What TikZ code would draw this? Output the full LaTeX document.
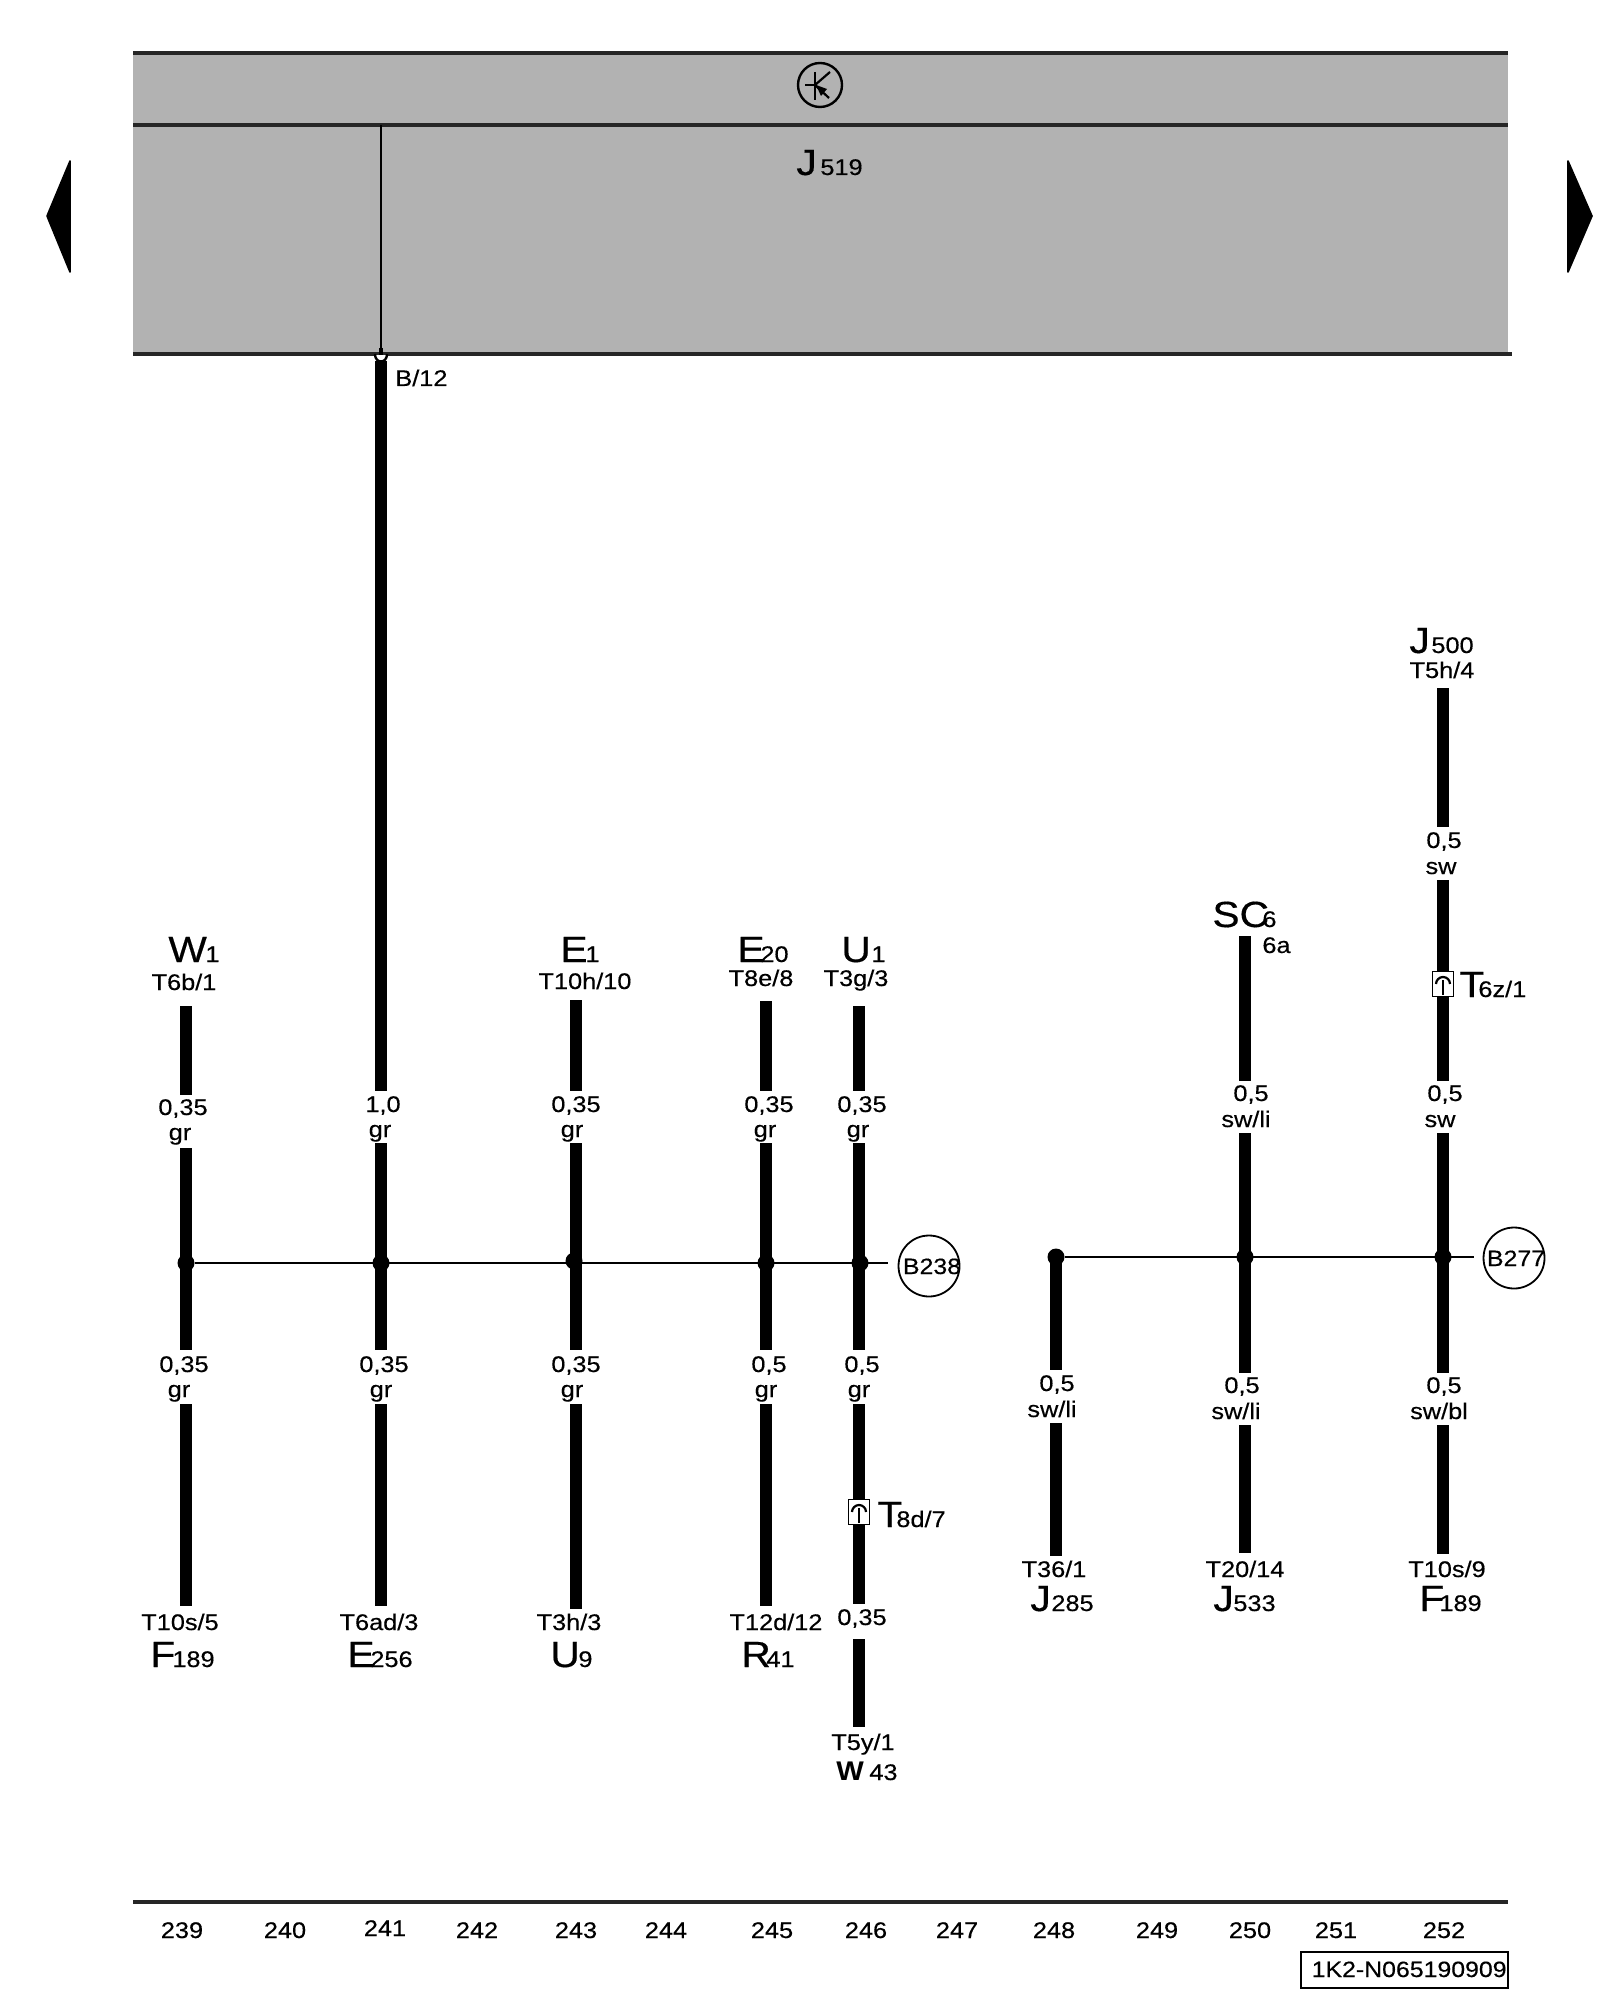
\documentclass[tikz,border=0pt]{standalone}
\usepackage{fontspec}
\setmainfont[FakeStretch=1.12,FakeBold=0.4]{Liberation Sans}
\newfontfamily\boldw[FakeStretch=1.08]{Liberation Sans}
\newcommand\smallf{\fontsize{11.3}{13}\selectfont}
\newcommand\bigf{\fontsize{18.2}{20}\selectfont}
\tikzset{
  wire/.style={line width=6.2pt,line cap=butt},
  thin wire/.style={line width=1.1pt},
  frame line/.style={line width=1.6pt,color=black!85},
  lab/.style={inner sep=0pt,anchor=base,font=\smallf},
  biglab/.style={inner sep=0pt,anchor=base west,font=\bigf},
  sublab/.style={inner sep=0pt,anchor=base west,font=\smallf},
  dot/.style={circle,fill=black,inner sep=0pt,minimum size=8.5pt},
  bubble/.style={circle,draw,line width=.9pt,inner sep=0pt,minimum size=30.5pt},
  plug/.style={draw,line width=.8pt,fill=white,inner sep=0pt,minimum width=10.5pt,minimum height=12.5pt},
}
\newcommand\wire[4]{\coordinate (#1a) at (#2,#3); \coordinate (#1b) at (#2,#4); \draw[wire] (#1a) -- (#1b);}
\newcommand\lab[4]{\node[lab] (#1) at (#2,#3) {#4};}
% name, big x, baseline, big letter, sub x, sub text
\newcommand\biglabel[6]{\node[biglab] (#1) at (#2,#3) {#4}; \node[sublab] (#1s) at (#5,#3) {#6};}
\newcommand\plugat[3]{\node[plug] (#1) at (#2,#3) {};
  \draw[line width=1.1pt] ([xshift=-3.5pt]#1.center) arc[start angle=180,end angle=0,radius=3.5pt];
  \draw[line width=.8pt] ([yshift=2pt]#1.center) -- ([yshift=-5.5pt]#1.center);}
\begin{document}
\begin{tikzpicture}[x=0.5pt,y=-0.5pt]
\useasboundingbox (0,0) rectangle (1600,2000);
% control unit
\coordinate (tl) at (133,53); \coordinate (tr) at (1508,53);
\coordinate (ml) at (133,125); \coordinate (mr) at (1508,125);
\coordinate (bl) at (133,354); \coordinate (br) at (1508,354); \coordinate (brx) at (1512,354);
\fill[black!30] (tl) rectangle (br);
\draw[frame line] (tl) -- (tr);
\draw[frame line] (ml) -- (mr);
\draw[frame line] (bl) -- (brx);
% transistor symbol
\node[circle,draw,line width=1.2pt,minimum size=22pt,inner sep=0pt] (tr1) at (820,85) {};
\draw[line width=1.1pt] (805,85) -- (815,85);
\draw[line width=1.1pt] (815,72) -- (815,100);
\draw[line width=1.1pt] (830,72) -- (815,85) -- (829,98);
\fill (816,85) -- (827,89) -- (821,96) -- cycle;
\biglabel{jc}{796}{175}{J}{820}{519}
% nav triangles
\fill[line join=round,draw,line width=.8pt] (47,216) -- (70,161) -- (70,272) -- cycle;
\fill[line join=round,draw,line width=.8pt] (1592,216) -- (1568,161) -- (1568,272) -- cycle;
% pin
\coordinate (pin0) at (381,125); \coordinate (pin1) at (381,350);
\draw[thin wire] (pin0) -- (pin1);
\draw[line width=2pt] (381,348) -- (381,356);
\fill[white] (375,355) .. controls (375,364) and (387,364) .. (387,355) -- cycle;
\draw[line width=1.2pt] (375,354) .. controls (375,364) and (387,364) .. (387,354);
% wires left group
\wire{a1}{186}{1006}{1095}\wire{a2}{186}{1148}{1350}\wire{a3}{186}{1404}{1606}
\wire{b1}{381}{361}{1091}\wire{b2}{381}{1143}{1350}\wire{b3}{381}{1404}{1606}
\wire{c1}{576}{1000}{1091}\wire{c2}{576}{1143}{1350}\wire{c3}{576}{1404}{1609}
\wire{d1}{766}{1001}{1091}\wire{d2}{766}{1143}{1350}\wire{d3}{766}{1404}{1606}
\wire{e1}{859}{1006}{1091}\wire{e2}{859}{1143}{1350}\wire{e3}{859}{1404}{1604}\wire{e4}{859}{1639}{1727}
\node[lab,anchor=base west] (b12) at (395,386) {B/12};
% left bus
\node[dot] (da) at (186,1263) {}; \node[dot] (db) at (381,1263) {}; \node[dot] (dc) at (574,1261) {};
\node[dot] (dd) at (766,1263) {}; \node[dot] (de) at (860,1263) {};
\coordinate (busend) at (888,1263);
\draw[thin wire] (da) -- (busend);
\node[bubble] (b238) at (929,1266) {};
\node[lab,font=\fontsize{11.1}{13}\selectfont] at (932,1274) {B238};
% right group wires
\wire{f1}{1056}{1257}{1370}\wire{f2}{1056}{1423}{1556}
\wire{g1}{1245}{936}{1081}\wire{g2}{1245}{1133}{1373}\wire{g3}{1245}{1425}{1553}
\wire{h1}{1443}{688}{827}\wire{h2}{1443}{880}{1081}\wire{h3}{1443}{1133}{1373}\wire{h4}{1443}{1425}{1554}
\node[dot] (df) at (1056,1257) {}; \node[dot] (dg) at (1245,1257) {}; \node[dot] (dh) at (1443,1257) {};
\coordinate (busendr) at (1474,1257);
\draw[thin wire] (df) -- (busendr);
\node[bubble] (b277) at (1514,1258) {};
\node[lab,font=\fontsize{11.1}{13}\selectfont] at (1516,1266) {B277};
% plugs
\plugat{pa}{859}{1512}
\plugat{pb}{1443}{984}
% top labels
\biglabel{w1}{168}{962}{W}{205}{1} \lab{la1}{184}{990}{T6b/1}
\biglabel{e1x}{560}{962}{E}{585}{1} \lab{lc1}{585}{989}{T10h/10}
\biglabel{e20}{737}{962}{E}{760}{20} \lab{ld1}{761}{986}{T8e/8}
\biglabel{u1}{841}{962}{U}{871}{1} \lab{le1}{856}{986}{T3g/3}
% wire size labels
\lab{s1a}{183}{1115}{0,35}\lab{s1b}{180}{1140}{gr}
\lab{s2a}{383}{1112}{1,0}\lab{s2b}{380}{1137}{gr}
\lab{s3a}{576}{1112}{0,35}\lab{s3b}{572}{1137}{gr}
\lab{s4a}{769}{1112}{0,35}\lab{s4b}{765}{1137}{gr}
\lab{s5a}{862}{1112}{0,35}\lab{s5b}{858}{1137}{gr}
\lab{t1a}{184}{1372}{0,35}\lab{t1b}{179}{1397}{gr}
\lab{t2a}{384}{1372}{0,35}\lab{t2b}{381}{1397}{gr}
\lab{t3a}{576}{1372}{0,35}\lab{t3b}{572}{1397}{gr}
\lab{t4a}{769}{1372}{0,5}\lab{t4b}{766}{1397}{gr}
\lab{t5a}{862}{1372}{0,5}\lab{t5b}{859}{1397}{gr}
\lab{t5c}{862}{1625}{0,35}
% bottom labels
\lab{p1}{180}{1630}{T10s/5}\biglabel{f189}{150}{1667}{F}{172}{189}
\lab{p2}{379}{1630}{T6ad/3}\biglabel{e256}{347}{1667}{E}{370}{256}
\lab{p3}{569}{1630}{T3h/3}\biglabel{u9}{550}{1667}{U}{578}{9}
\lab{p4}{776}{1630}{T12d/12}\biglabel{r41}{741}{1667}{R}{766}{41}
\lab{p5}{863}{1750}{T5y/1}
\node[inner sep=0pt,anchor=base west,font=\boldw\fontsize{13.5}{15}\selectfont\bfseries] (w43) at (836,1780) {W};
\node[sublab] (w43s) at (869,1780) {43};
\biglabel{t8d}{877}{1527}{T}{896}{8d/7}
% right labels
\lab{q1}{1054}{1577}{T36/1}\biglabel{j285}{1030}{1611}{J}{1051}{285}
\lab{q2}{1245}{1577}{T20/14}\biglabel{j533}{1213}{1611}{J}{1233}{533}
\lab{q3}{1447}{1577}{T10s/9}\biglabel{f189b}{1419}{1611}{F}{1439}{189}
\lab{r1a}{1057}{1391}{0,5}\lab{r1b}{1052}{1417}{sw/li}
\lab{r2a}{1242}{1393}{0,5}\lab{r2b}{1236}{1419}{sw/li}
\lab{r3a}{1444}{1393}{0,5}\lab{r3b}{1439}{1419}{sw/bl}
\lab{r4a}{1251}{1101}{0,5}\lab{r4b}{1246}{1127}{sw/li}
\lab{r5a}{1445}{1101}{0,5}\lab{r5b}{1440}{1127}{sw}
\lab{r6a}{1444}{848}{0,5}\lab{r6b}{1441}{874}{sw}
\lab{r7}{1442}{678}{T5h/4}
\biglabel{j500}{1409}{653}{J}{1431}{500}
\node[biglab] (sc) at (1212,927) {SC};
\node[sublab] (sc6) at (1262,927) {6};
\node[sublab] (sc6a) at (1262,953) {6a};
\biglabel{t6z}{1459}{997}{T}{1478}{6z/1}
% axis
\coordinate (axl) at (133,1902); \coordinate (axr) at (1508,1902);
\draw[frame line] (axl) -- (axr);
\foreach \x/\n/\yy in {182/239/1938,285/240/1938,385/241/1936,477/242/1938,576/243/1938,666/244/1938,772/245/1938,866/246/1938,957/247/1938,1054/248/1938,1157/249/1938,1250/250/1938,1336/251/1938,1444/252/1938}
  \node[lab] (n\n) at (\x,\yy) {\n};
\coordinate (ca) at (1301,1952); \coordinate (cb) at (1508,1988);
\draw[line width=1pt] (ca) rectangle (cb);
\node[inner sep=0pt,anchor=base east,font=\fontsize{11.1}{13}\selectfont] (codet) at (1507,1977) {1K2-N065190909};
\end{tikzpicture}
\end{document}
